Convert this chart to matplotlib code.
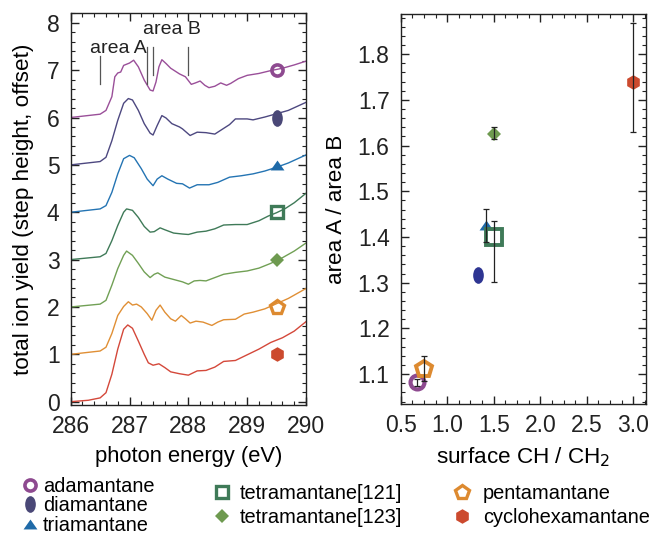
import matplotlib
matplotlib.use("Agg")
import matplotlib.pyplot as plt
import numpy as np
from matplotlib.path import Path
from matplotlib.lines import Line2D
from matplotlib.ticker import MultipleLocator, FormatStrFormatter

plt.rcParams['font.family'] = ['Liberation Sans', 'DejaVu Sans']

# ---------------- data: spectra (photon energy eV, offset yield) ----------------
ada_x = [286.0, 286.5, 286.6, 286.7, 286.75, 286.8, 286.85, 286.9, 287.0, 287.07, 287.15, 287.25, 287.35, 287.4,
         287.45, 287.5, 287.55, 287.62, 287.7, 287.8, 287.85, 287.95, 288.05, 288.12, 288.2, 288.28, 288.35,
         288.45, 288.55, 288.65, 288.72, 288.85, 289.0, 289.2, 289.4, 289.6, 289.8, 290.0]
ada_y = [6.0, 6.07, 6.15, 6.44, 6.86, 6.94, 6.96, 7.10, 7.15, 7.21, 7.07, 6.79, 6.58, 6.56,
         6.75, 7.07, 7.22, 7.14, 7.04, 6.96, 6.92, 6.86, 6.70, 6.73, 6.77, 6.68, 6.63,
         6.66, 6.73, 6.68, 6.72, 6.82, 6.89, 6.93, 6.99, 7.04, 7.11, 7.19]

dia_x = [286.0, 286.5, 286.6, 286.7, 286.8, 286.9, 286.98, 287.05, 287.15, 287.25, 287.35, 287.4, 287.47,
         287.55, 287.62, 287.72, 287.85, 287.9, 288.03, 288.15, 288.3, 288.45, 288.55, 288.7, 288.8, 289.0,
         289.1, 289.3, 289.5, 289.7, 290.0]
dia_y = [5.0, 5.07, 5.16, 5.51, 5.94, 6.30, 6.40, 6.37, 6.15, 5.87, 5.67, 5.63, 5.83,
         6.04, 5.99, 5.87, 5.80, 5.76, 5.62, 5.69, 5.68, 5.65, 5.73, 5.85, 5.97, 5.97,
         5.95, 6.01, 6.08, 6.15, 6.32]

tri_x = [286.0, 286.5, 286.6, 286.7, 286.8, 286.9, 287.0, 287.08, 287.2, 287.3, 287.4, 287.47, 287.55,
         287.65, 287.8, 287.9, 288.02, 288.15, 288.35, 288.5, 288.7, 288.9, 289.1, 289.3, 289.5, 289.7, 290.0]
tri_y = [4.0, 4.07, 4.14, 4.42, 4.81, 5.13, 5.20, 5.15, 4.92, 4.70, 4.56, 4.70, 4.77,
         4.70, 4.61, 4.60, 4.51, 4.58, 4.58, 4.63, 4.74, 4.77, 4.81, 4.87, 4.95, 5.04, 5.21]

t121_x = [286.0, 286.5, 286.6, 286.7, 286.8, 286.9, 286.95, 287.05, 287.15, 287.25, 287.35, 287.42, 287.52,
          287.6, 287.75, 287.9, 288.0, 288.15, 288.3, 288.45, 288.6, 288.8, 289.0, 289.2, 289.36, 289.5,
          289.65, 289.8, 290.0]
t121_y = [3.0, 3.06, 3.13, 3.40, 3.72, 4.0, 4.07, 4.04, 3.89, 3.70, 3.58, 3.59, 3.67,
          3.63, 3.56, 3.54, 3.53, 3.58, 3.60, 3.65, 3.73, 3.74, 3.74, 3.82, 3.92, 3.99,
          4.08, 4.20, 4.40]

t123_x = [286.0, 286.5, 286.6, 286.7, 286.8, 286.9, 286.95, 287.05, 287.15, 287.25, 287.35, 287.42, 287.48,
          287.6, 287.75, 287.9, 288.0, 288.1, 288.2, 288.3, 288.45, 288.6, 288.8, 289.0, 289.2, 289.4,
          289.6, 289.8, 290.0]
t123_y = [2.0, 2.06, 2.14, 2.46, 2.81, 3.09, 3.18, 3.09, 2.92, 2.74, 2.62, 2.69, 2.72,
          2.63, 2.58, 2.53, 2.48, 2.55, 2.56, 2.55, 2.62, 2.69, 2.73, 2.76, 2.82, 2.92,
          3.04, 3.18, 3.35]

pen_x = [286.0, 286.5, 286.6, 286.7, 286.8, 286.9, 286.98, 287.05, 287.12, 287.2, 287.3, 287.38, 287.45,
         287.52, 287.6, 287.7, 287.78, 287.88, 287.95, 288.03, 288.13, 288.25, 288.4, 288.5, 288.6, 288.8,
         288.95, 289.1, 289.3, 289.5, 289.7, 290.0]
pen_y = [1.0, 1.07, 1.15, 1.44, 1.82, 2.01, 2.11, 2.04, 2.06, 2.0, 1.86, 1.72, 1.93,
         2.04, 1.89, 1.75, 1.70, 1.82, 1.75, 1.66, 1.70, 1.68, 1.61, 1.68, 1.73, 1.74,
         1.85, 1.89, 1.96, 2.07, 2.18, 2.39]

cyc_x = [286.0, 286.3, 286.5, 286.6, 286.7, 286.8, 286.9, 286.97, 287.05, 287.15, 287.25, 287.32, 287.4,
         287.5, 287.6, 287.7, 287.85, 288.0, 288.15, 288.3, 288.45, 288.6, 288.8, 289.0, 289.2, 289.4,
         289.6, 289.8, 290.0]
cyc_y = [0.0, 0.03, 0.08, 0.19, 0.58, 1.11, 1.53, 1.62, 1.55, 1.28, 1.0, 0.82, 0.77,
         0.80, 0.72, 0.63, 0.59, 0.56, 0.65, 0.66, 0.73, 0.85, 0.87, 0.99, 1.11, 1.25,
         1.35, 1.49, 1.69]

names = ["adamantane", "diamantane", "triamantane", "tetramantane[121]",
         "tetramantane[123]", "pentamantane", "cyclohexamantane"]
marker_offsets = [7, 6, 5, 4, 3, 2, 1]
marker_energy = 289.5

# ---------------- data: ratio plot ----------------
ratio_x = [0.67, 1.335, 1.42, 1.5, 1.5, 0.75, 3.0]
ratio_y = [1.082, 1.316, 1.426, 1.40, 1.626, 1.112, 1.740]
err_lo = [0.007, 0.0, 0.036, 0.099, 0.012, 0.028, 0.110]
err_hi = [0.007, 0.0, 0.036, 0.034, 0.015, 0.028, 0.128]

# area marker lines (energy, y-bottom, y-top)
area_x = [286.5, 287.3, 287.4, 288.0]
area_lo = [6.70, 6.70, 6.89, 6.89]
area_hi = [7.30, 7.49, 7.49, 7.49]

# ---------------- styles ----------------
line_colors = ["#9a4f99", "#4d4880", "#2474b3", "#3f7a58", "#71a055", "#e08f35", "#d4483a"]
mk_colors = ["#8e4a90", "#4a4877", "#1f6aa8", "#3f7a58", "#6e9a50", "#dd8a30", "#cc4a2e"]
right_colors = ["#8e4a90", "#2e3592", "#1f6aa8", "#3f7a58", "#6e9a50", "#dd8a30", "#cc4a2e"]

ell = Path.unit_circle()
ell = Path(ell.vertices * np.array([0.64, 1.0]), ell.codes)
tri = [(-0.7, -0.5), (0.7, -0.5), (0.0, 0.5), (-0.7, -0.5)]

mstyle = [
    dict(marker='o', ms=8.0, mfc='none', mew=2.6),
    dict(marker=ell, ms=12, mew=0),
    dict(marker=tri, ms=10, mew=0),
    dict(marker='s', ms=9.0, mfc='none', mew=2.4),
    dict(marker='D', ms=7.0, mew=0),
    dict(marker='p', ms=10.0, mfc='none', mew=2.4),
    dict(marker='h', ms=10.5, mew=0),
]

W, H = 652, 538
fig = plt.figure(figsize=(W / 100, H / 100), dpi=100)

ax1 = fig.add_axes([70.7 / W, 1 - 405 / H, 235.3 / W, (405 - 13.3) / H])
ax2 = fig.add_axes([400.7 / W, 1 - 404.3 / H, 245.3 / W, (404.3 - 14) / H])

spectra = [(ada_x, ada_y), (dia_x, dia_y), (tri_x, tri_y), (t121_x, t121_y),
           (t123_x, t123_y), (pen_x, pen_y), (cyc_x, cyc_y)]
for i, (xs, ys) in enumerate(spectra):
    ax1.plot(xs, ys, color=line_colors[i], lw=1.0)
    st = dict(mstyle[i])
    c = mk_colors[i]
    if st.get('mfc') == 'none':
        ax1.plot([marker_energy], [marker_offsets[i]], ls='none', mec=c, **st)
    else:
        ax1.plot([marker_energy], [marker_offsets[i]], ls='none', mfc=c, mec=c, **st)

for xv, lo, hi in zip(area_x, area_lo, area_hi):
    ax1.plot([xv, xv], [lo, hi], color='#555555', lw=0.9)
ax1.text(286.81, 7.46, "area A", ha='center', va='center', fontsize=14, color='#222222')
ax1.text(287.72, 7.86, "area B", ha='center', va='center', fontsize=14, color='#222222')

ax1.set_xlim(286, 290)
ax1.set_ylim(-0.07, 8.2)
ax1.xaxis.set_major_locator(MultipleLocator(1))
ax1.xaxis.set_minor_locator(MultipleLocator(0.2))
ax1.yaxis.set_major_locator(MultipleLocator(1))
ax1.yaxis.set_minor_locator(MultipleLocator(0.2))
ax1.set_xlabel("photon energy (eV)", fontsize=15.8, labelpad=6)
ax1.set_ylabel("total ion yield (step height, offset)", fontsize=16.2, labelpad=9)

for i in range(7):
    st = dict(mstyle[i])
    c = right_colors[i]
    if st.get('mfc') == 'none':
        st['ms'] = st['ms'] + 2.0
        st['mew'] = st['mew'] + 0.4
        ax2.plot([ratio_x[i]], [ratio_y[i]], ls='none', mec=c, zorder=3, **st)
    else:
        ax2.plot([ratio_x[i]], [ratio_y[i]], ls='none', mfc=c, mec=c, zorder=3, **st)
    if err_lo[i] > 0 or err_hi[i] > 0:
        ax2.errorbar([ratio_x[i]], [ratio_y[i]], yerr=[[err_lo[i]], [err_hi[i]]], fmt='none',
                     ecolor='#222222', elinewidth=0.9, capsize=2.0, capthick=0.9, zorder=4)

ax2.set_xlim(0.5, 3.136)
ax2.set_ylim(1.034, 1.888)
ax2.xaxis.set_major_locator(MultipleLocator(0.5))
ax2.xaxis.set_minor_locator(MultipleLocator(0.125))
ax2.yaxis.set_major_locator(MultipleLocator(0.1))
ax2.yaxis.set_minor_locator(MultipleLocator(0.02))
ax2.set_xlabel("surface CH / CH$_2$", fontsize=16.2, labelpad=6)
ax2.set_ylabel("area A / area B", fontsize=16.2, labelpad=8)
ax2.xaxis.set_major_formatter(FormatStrFormatter('%.1f'))
ax2.yaxis.set_major_formatter(FormatStrFormatter('%.1f'))

for ax in (ax1, ax2):
    ax.tick_params(which='both', direction='in', top=True, right=True, labelsize=16.5,
                   color='#222222', labelcolor='#222222')
    ax.tick_params(which='major', length=6, width=1.0)
    ax.tick_params(which='minor', length=3, width=0.8)
    ax.tick_params(axis='x', pad=7)
    ax.tick_params(axis='y', pad=8)
    for sp in ax.spines.values():
        sp.set_linewidth(1.0)
        sp.set_color('#222222')


def handle(i):
    st = dict(mstyle[i])
    c = mk_colors[i]
    if st.get('mfc') == 'none':
        return Line2D([], [], ls='none', mec=c, **st)
    return Line2D([], [], ls='none', mfc=c, mec=c, **st)


# (entries, left px, top px, labelspacing, handletextpad)
cols = [([0, 1, 2], 21, 477, 0.02, 0.2), ([3, 4], 213, 484, 0.26, 0.45), ([5, 6], 453, 484, 0.26, 0.6)]
for idx, x0, y0, lsp, htp in cols:
    fig.legend([handle(i) for i in idx], [names[i] for i in idx],
               loc='upper left', bbox_to_anchor=(x0 / W, 1 - y0 / H), frameon=False,
               fontsize=14.4, handlelength=0.9, handletextpad=htp, labelspacing=lsp,
               borderpad=0, borderaxespad=0)

fig.savefig("out.png", dpi=100)
